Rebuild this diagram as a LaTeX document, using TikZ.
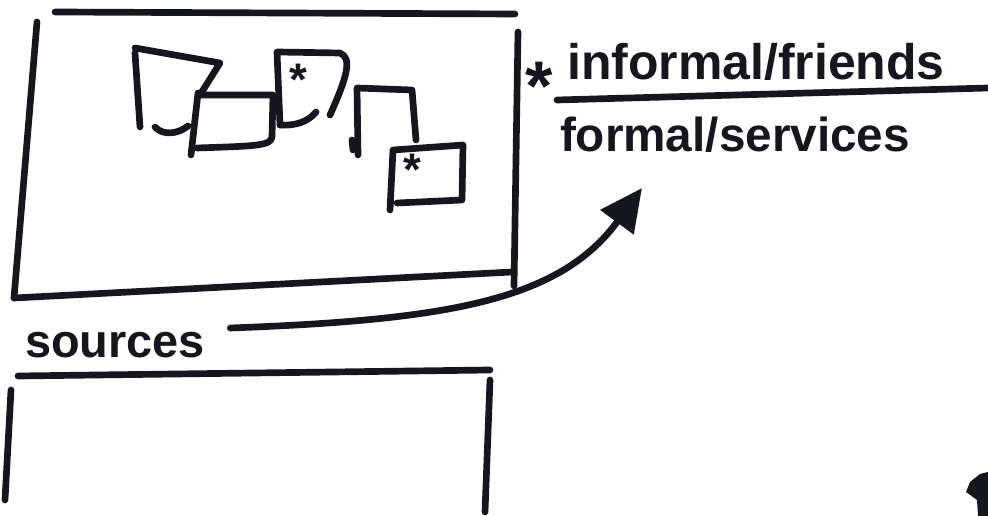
\documentclass[tikz,border=0pt]{standalone}
\usepackage{fontspec}
\setmainfont{Liberation Sans}
\usetikzlibrary{arrows.meta}
\definecolor{ink}{RGB}{22,22,32}
\begin{document}
\begin{tikzpicture}[x=0.02cm,y=-0.02cm,
  pen/.style={draw=ink,line width=3.8pt,line cap=round,line join=round},
  lbl/.style={inner sep=0pt,anchor=center,text=ink,font=\bfseries},
  star/.style={inner sep=0pt,text=ink,font=\bfseries\fontsize{26}{26}\selectfont},
  bigstar/.style={inner sep=0pt,text=ink,font=\bfseries\fontsize{40}{40}\selectfont}]
\fill[white] (0,0) rectangle (988,516);
\useasboundingbox (0,0) rectangle (988,516);

% big top frame
\draw[pen] (55,12) -- (515,14);
\draw[pen] (37,22) -- (14,298);
\draw[pen] (14,298) -- (512,272);
\draw[pen] (518,32) -- (514,286);

% small box A
\draw[pen] (135,53) -- (140,127);
\draw[pen] (135,48) -- (220,63) -- (200,95);
\draw[pen] (155,127) .. controls (163,136) and (178,134) .. (188,126);
% small box B
\draw[pen] (198,93) -- (191,155);
\draw[pen] (200,95) -- (273,95) -- (272,137) .. controls (271,146) and (255,146) .. (197,148);
% small box C
\draw[pen] (280,125) -- (277,52) -- (340,53) .. controls (352,58) and (348,75) .. (330,115);
\draw[pen] (280,125) .. controls (295,126) and (308,122) .. (316,112);
\node[star] (starC) at (298,80) {*};
% small box D
\draw[pen] (358,155) -- (357,88) -- (412,90) -- (416,140);
\draw[pen] (352,140) -- (353,150);
% small box E
\draw[pen] (390,210) -- (393,150) -- (463,145) -- (462,200) -- (397,203);
\node[star] (starE) at (412,170) {*};

% legend
\node[bigstar] (starL) at (539,86) {*};
\node[lbl] (informal) at (756,62) {\resizebox{7.55cm}{!}{informal/friends}};
\draw[pen] (557,100) -- (988,88);
\node[lbl] (formal) at (735,135) {\resizebox{7.0cm}{!}{formal/services}};

% sources
\node[lbl] (sources) at (115,345) {\resizebox{3.6cm}{!}{sources}};
\coordinate (tip) at (642,188);
\draw[pen,-{Triangle[length=0.85cm,width=0.8cm]}] (sources.east) ++(25,-17) coordinate (s0)
  .. controls (450,320) and (560,300) .. (tip);

% bottom frame
\draw[pen] (18,376) -- (490,370);
\draw[pen] (11,390) -- (5,500);
\draw[pen] (490,380) -- (485,512);

% fragment at bottom right
\fill[ink] (966,492) -- (970,482) -- (980,474) -- (988,472) -- (988,516) -- (978,516) -- (977,500) -- cycle;
\end{tikzpicture}
\end{document}
